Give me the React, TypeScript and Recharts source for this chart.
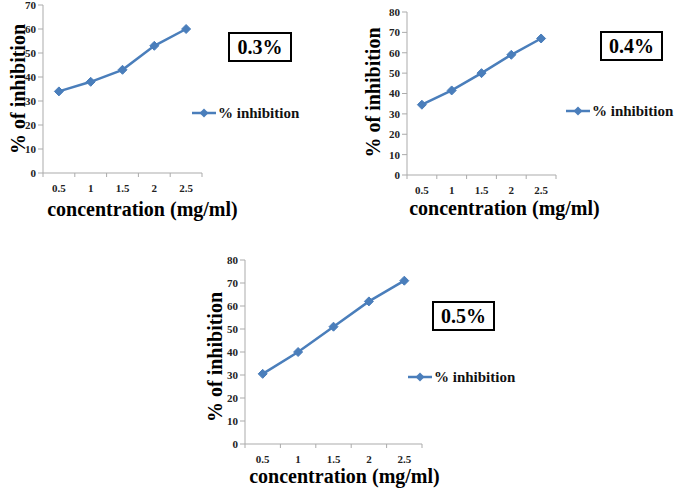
import React from "react";
import { LineChart, Line, XAxis, YAxis, Legend, Label } from "recharts";

const concentrations = [0.5, 1, 1.5, 2, 2.5];
const inhibition03 = [34, 38, 43, 53, 60];
const inhibition04 = [34.5, 41.5, 50, 59, 67];
const inhibition05 = [30.5, 40, 51, 62, 71];
const xTicks = [0.25, 0.5, 0.75, 1, 1.25, 1.5, 1.75, 2, 2.25, 2.5, 2.75];
const yTicks70 = [0, 10, 20, 30, 40, 50, 60, 70];
const yTicks80 = [0, 10, 20, 30, 40, 50, 60, 70, 80];
const seriesName = "% inhibition";
const xTitle = "concentration (mg/ml)";
const yTitle = "% of inhibition";

const FONT = '"Liberation Serif", "Times New Roman", serif';
const BLUE = "#4A7EBB";
const AXIS = "#ABABAB";

type PanelCfg = {
  label: string;
  values: number[];
  yTicks: number[];
  left: number;
  top: number;
  w: number;
  h: number;
  plotL: number;
  plotT: number;
  plotR: number;
  plotB: number;
  xTitleDx: number;
  xTitleDy: number;
  yTitleGap: number;
  yTitleDy: number;
  legendL: number;
  legendT: number;
  box: { l: number; t: number; w: number; h: number };
};

const panels: PanelCfg[] = [
  {
    label: "0.3%",
    values: inhibition03,
    yTicks: yTicks70,
    left: 0, top: 0, w: 330, h: 230,
    plotL: 43, plotT: 5, plotR: 202, plotB: 173,
    xTitleDx: 20, xTitleDy: 43, yTitleGap: 18, yTitleDy: 0,
    legendL: 192, legendT: 104,
    box: { l: 228, t: 32, w: 64, h: 30 },
  },
  {
    label: "0.4%",
    values: inhibition04,
    yTicks: yTicks80,
    left: 340, top: 0, w: 336, h: 230,
    plotL: 67, plotT: 12, plotR: 216, plotB: 175,
    xTitleDx: 23, xTitleDy: 40, yTitleGap: 27, yTitleDy: -1,
    legendL: 226, legendT: 102,
    box: { l: 260, t: 31, w: 63, h: 30 },
  },
  {
    label: "0.5%",
    values: inhibition05,
    yTicks: yTicks80,
    left: 190, top: 240, w: 340, h: 251,
    plotL: 55, plotT: 20, plotR: 232, plotB: 204,
    xTitleDx: 11, xTitleDy: 39, yTitleGap: 23, yTitleDy: 5,
    legendL: 218, legendT: 128,
    box: { l: 242, t: 61, w: 63, h: 30 },
  },
];

const XTick = (props: any) => {
  const { x, y, payload } = props;
  const v = payload.value as number;
  const isBoundary = Math.round(v * 4) % 2 === 1;
  if (isBoundary) {
    return <line x1={x} x2={x} y1={y} y2={y + 4} stroke={AXIS} strokeWidth={1} />;
  }
  return (
    <text x={x} y={y + 19} textAnchor="middle" fontFamily={FONT} fontWeight="bold" fontSize={11} fill="#222">
      {v}
    </text>
  );
};

const Diamond = (props: any) => {
  const { cx, cy, index } = props;
  if (cx == null || cy == null) return <g key={index} />;
  const r = 4.5;
  return (
    <path
      key={index}
      d={`M${cx},${cy - r} L${cx + r},${cy} L${cx},${cy + r} L${cx - r},${cy} Z`}
      fill={BLUE}
      stroke={BLUE}
      strokeWidth={1}
    />
  );
};

const LegendContent = () => (
  <div style={{ display: "flex", alignItems: "center", whiteSpace: "nowrap" }}>
    <svg width={25} height={18}>
      <line x1={0} x2={24} y1={9} y2={9} stroke={BLUE} strokeWidth={2.5} />
      <path d="M12,4.5 L16.5,9 L12,13.5 L7.5,9 Z" fill={BLUE} />
    </svg>
    <span style={{ fontFamily: FONT, fontWeight: "bold", fontSize: 15, color: "#111", marginLeft: 1 }}>
      {seriesName}
    </span>
  </div>
);

const Panel = ({ cfg }: { cfg: PanelCfg }) => {
  const data = concentrations.map((c, i) => ({ conc: c, value: cfg.values[i] }));
  const plotW = cfg.plotR - cfg.plotL;
  const plotH = cfg.plotB - cfg.plotT;
  const yMax = cfg.yTicks[cfg.yTicks.length - 1];
  return (
    <div style={{ position: "absolute", left: cfg.left, top: cfg.top, width: cfg.w, height: cfg.h }}>
      <LineChart
        width={cfg.w}
        height={cfg.h}
        data={data}
        margin={{ top: cfg.plotT, right: cfg.w - cfg.plotR, bottom: 0, left: 0 }}
      >
        <XAxis
          dataKey="conc"
          type="number"
          domain={[0.25, 2.75]}
          ticks={xTicks}
          interval={0}
          tick={<XTick />}
          tickLine={false}
          tickSize={0}
          tickMargin={0}
          height={cfg.h - cfg.plotB}
          axisLine={{ stroke: AXIS, strokeWidth: 1 }}
        >
          <Label
            content={() => (
              <text
                x={cfg.plotL + plotW / 2 + cfg.xTitleDx}
                y={cfg.plotB + cfg.xTitleDy}
                textAnchor="middle"
                fontFamily={FONT}
                fontWeight="bold"
                fontSize={20}
                fill="#000"
              >
                {xTitle}
              </text>
            )}
          />
        </XAxis>
        <YAxis
          type="number"
          domain={[0, yMax]}
          ticks={cfg.yTicks}
          interval={0}
          width={cfg.plotL}
          tickSize={5}
          tickMargin={2}
          tickLine={{ stroke: AXIS }}
          axisLine={{ stroke: AXIS, strokeWidth: 1 }}
          tick={{ fontFamily: FONT, fontWeight: "bold", fontSize: 11, fill: "#222" }}
        >
          <Label
            content={() => {
              const bx = cfg.plotL - cfg.yTitleGap;
              const cy = cfg.plotT + plotH / 2 + cfg.yTitleDy;
              return (
                <text
                  x={bx}
                  y={cy}
                  transform={`rotate(-90, ${bx}, ${cy})`}
                  textAnchor="middle"
                  fontFamily={FONT}
                  fontWeight="bold"
                  fontSize={20}
                  fill="#000"
                >
                  {yTitle}
                </text>
              );
            }}
          />
        </YAxis>
        <Legend
          layout="horizontal"
          align="center"
          verticalAlign="middle"
          content={() => <LegendContent />}
          wrapperStyle={{ position: "absolute", left: cfg.legendL, top: cfg.legendT, width: 120, height: 18 }}
        />
        <Line
          type="linear"
          dataKey="value"
          name={seriesName}
          stroke={BLUE}
          strokeWidth={2.5}
          dot={Diamond}
          activeDot={false}
          isAnimationActive={false}
        />
      </LineChart>
      <div
        style={{
          position: "absolute",
          left: cfg.box.l,
          top: cfg.box.t,
          width: cfg.box.w,
          height: cfg.box.h,
          boxSizing: "border-box",
          border: "2px solid #000",
          display: "flex",
          alignItems: "center",
          justifyContent: "center",
          fontFamily: FONT,
          fontWeight: "bold",
          fontSize: 20,
          color: "#000",
          background: "#fff",
        }}
      >
        {cfg.label}
      </div>
    </div>
  );
};

export default function App() {
  return (
    <div style={{ position: "absolute", left: 0, top: 0, width: 676, height: 491, background: "#fff", overflow: "hidden" }}>
      {panels.map((p) => (
        <Panel key={p.label} cfg={p} />
      ))}
    </div>
  );
}
